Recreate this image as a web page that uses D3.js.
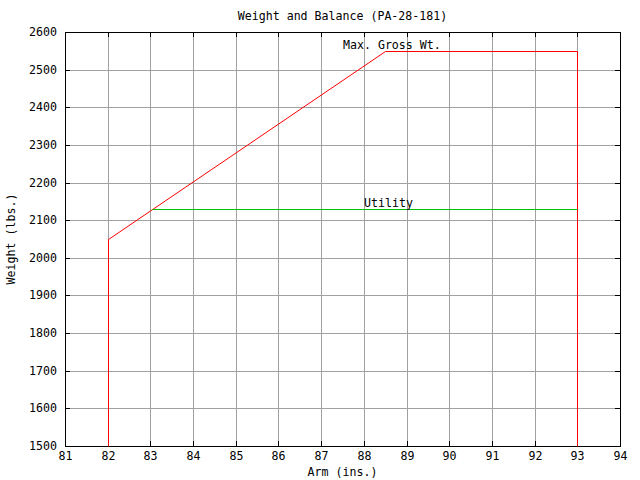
<!DOCTYPE html>
<html>
<head>
<meta charset="utf-8">
<script src="https://cdn.jsdelivr.net/npm/d3@7"></script>
<style>
  html, body { margin: 0; padding: 0; background: #fff; }
  svg { display: block; }
  text { font-family: "DejaVu Sans Mono", "Liberation Mono", monospace; font-size: 11.6px; fill: #000; }
</style>
</head>
<body>
<script>
// ---- Data ----
const titleText = "Weight and Balance (PA-28-181)";
const xAxisTitle = "Arm (ins.)";
const yAxisTitle = "Weight (lbs.)";

const xTickValues = [81, 82, 83, 84, 85, 86, 87, 88, 89, 90, 91, 92, 93, 94];
const yTickValues = [1500, 1600, 1700, 1800, 1900, 2000, 2100, 2200, 2300, 2400, 2500, 2600];

// Normal category envelope (red)
const envelopeArm    = [82, 82, 88.5, 93, 93];
const envelopeWeight = [1500, 2050, 2550, 2550, 1500];

// Utility category limit (green)
const utilityArm    = [83.04, 93];
const utilityWeight = [2130, 2130];

// Annotations
const labelTexts  = ["Max. Gross Wt.", "Utility"];
const labelArm    = [87.5, 88.0];
const labelWeight = [2555, 2135];

// ---- Layout ----
const W = 640, H = 480;
const pL = 65, pR = 620, pT = 32, pB = 446;
const h = 0.5; // half-pixel for crisp 1px lines

const svg = d3.select("body").append("svg")
  .attr("width", W).attr("height", H);

const x = d3.scaleLinear().domain([81, 94]).range([pL, pR]).interpolate(d3.interpolateRound);
const y = d3.scaleLinear().domain([1500, 2600]).range([pB, pT]).interpolate(d3.interpolateRound);

// Grid
const grid = svg.append("g")
  .attr("stroke", "#a0a0a0").attr("stroke-width", 1);
grid.selectAll("line.vx").data(xTickValues.slice(1, -1)).join("line")
  .attr("class", "vx")
  .attr("x1", d => x(d) + h).attr("x2", d => x(d) + h)
  .attr("y1", pT).attr("y2", pB);
grid.selectAll("line.hy").data(yTickValues.slice(1, -1)).join("line")
  .attr("class", "hy")
  .attr("x1", pL).attr("x2", pR)
  .attr("y1", d => y(d) + h).attr("y2", d => y(d) + h);

// Axes (ticks inward on all four sides)
const tickLen = 5;
function styleAxis(g) {
  g.select(".domain").remove();
  g.selectAll(".tick line").attr("stroke", "#000");
  g.selectAll("text").attr("fill", "#000");
  g.attr("font-family", null).attr("font-size", null);
}
svg.append("g").attr("transform", `translate(0,${pB})`)
  .call(d3.axisBottom(x).tickValues(xTickValues).tickFormat(d3.format("d"))
    .tickSizeInner(-tickLen).tickSizeOuter(0).tickPadding(6))
  .call(styleAxis);
svg.append("g").attr("transform", `translate(0,${pT})`)
  .call(d3.axisTop(x).tickValues(xTickValues).tickFormat("")
    .tickSizeInner(-tickLen).tickSizeOuter(0))
  .call(styleAxis);
svg.append("g").attr("transform", `translate(${pL},0)`)
  .call(d3.axisLeft(y).tickValues(yTickValues).tickFormat(d3.format("d"))
    .tickSizeInner(-tickLen).tickSizeOuter(0).tickPadding(8))
  .call(styleAxis);
svg.append("g").attr("transform", `translate(${pR},0)`)
  .call(d3.axisRight(y).tickValues(yTickValues).tickFormat("")
    .tickSizeInner(-tickLen).tickSizeOuter(0))
  .call(styleAxis);

// Border
svg.append("rect")
  .attr("x", pL + h).attr("y", pT + h)
  .attr("width", pR - pL).attr("height", pB - pT)
  .attr("fill", "none").attr("stroke", "#000").attr("stroke-width", 1);

// Lines
const line = d3.line().x(d => x(d[0]) + h).y(d => y(d[1]) + h);
svg.append("path")
  .datum(envelopeArm.map((a, i) => [a, envelopeWeight[i]]))
  .attr("d", line).attr("fill", "none").attr("stroke", "#ff0000")
  .attr("stroke-width", 1);
svg.append("path")
  .datum(utilityArm.map((a, i) => [a, utilityWeight[i]]))
  .attr("d", line).attr("fill", "none").attr("stroke", "#00c000")
  .attr("stroke-width", 1);

// Labels
svg.selectAll("text.anno").data(labelTexts).join("text")
  .attr("class", "anno")
  .attr("x", (d, i) => x(labelArm[i]))
  .attr("y", (d, i) => y(labelWeight[i]))
  .text(d => d);

// Titles
svg.append("text").attr("x", (pL + pR) / 2).attr("y", 20)
  .attr("text-anchor", "middle").text(titleText);
svg.append("text").attr("x", (pL + pR) / 2).attr("y", 476)
  .attr("text-anchor", "middle").text(xAxisTitle);
svg.append("text")
  .attr("transform", `translate(15,${(pT + pB) / 2}) rotate(-90)`)
  .attr("text-anchor", "middle").text(yAxisTitle);
</script>
</body>
</html>
